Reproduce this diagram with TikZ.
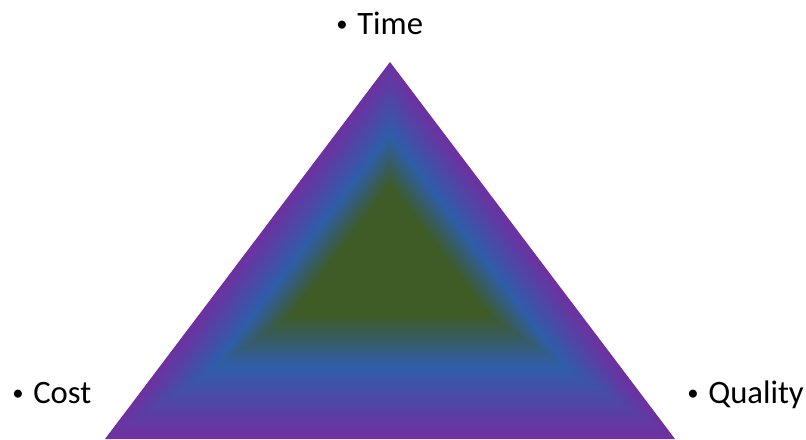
\documentclass[tikz,border=0pt]{standalone}
\usepackage{fontspec}
\setmainfont{Carlito}
\usetikzlibrary{calc}
\definecolor{purp}{RGB}{112,48,160}
\definecolor{blu}{RGB}{47,94,170}
\definecolor{grn}{RGB}{63,91,38}
\newcommand\mybul{\makebox[15.75pt][l]{\raisebox{2pt}{\fontsize{17}{17}\selectfont •}}}
\tikzset{
  lbl/.style={anchor=base west, inner sep=0pt, font=\fontsize{24.5}{30}\selectfont, text=black}
}
\begin{document}
\begin{tikzpicture}[x=0.75pt,y=-0.75pt]
\fill[white] (0,0) rectangle (806,439);
\useasboundingbox (0,0) rectangle (806,439);
\coordinate (C) at (390,250.5);
\coordinate (A) at (390,62);
\coordinate (L) at (105,439);
\coordinate (R) at (675,439);
% outer band: purple -> blue
\foreach \k in {0,...,76}{
  \pgfmathsetmacro{\s}{1-\k*0.005}
  \pgfmathsetmacro{\p}{(\s-0.62)/0.38*100}
  \fill[purp!\p!blu] ($(C)!\s!(A)$) -- ($(C)!\s!(L)$) -- ($(C)!\s!(R)$) -- cycle;
}
% inner band: blue -> green
\foreach \k in {0,...,56}{
  \pgfmathsetmacro{\s}{0.62-\k*0.005}
  \pgfmathsetmacro{\p}{max(0,(\s-0.344)/0.276*100)}
  \fill[blu!\p!grn] ($(C)!\s!(A)$) -- ($(C)!\s!(L)$) -- ($(C)!\s!(R)$) -- cycle;
}
\node[lbl] (time) at (336,34) {\mybul Time};
\node[lbl] (cost) at (12,403) {\mybul Cost};
\node[lbl] (quality) at (687,403) {\mybul Quality};
\end{tikzpicture}
\end{document}
